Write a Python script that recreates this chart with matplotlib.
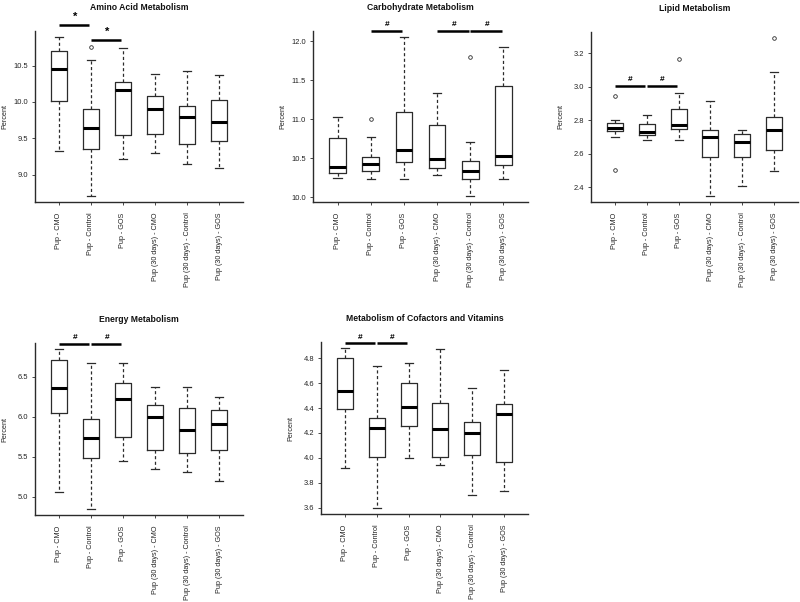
import numpy as np
import matplotlib.pyplot as plt
from matplotlib.ticker import MultipleLocator, FormatStrFormatter

plt.rcParams['font.family'] = ['Liberation Sans', 'DejaVu Sans']

groups = ['Pup - CMO', 'Pup - Control', 'Pup - GOS',
          'Pup (30 days) - CMO', 'Pup (30 days) - Control', 'Pup (30 days) - GOS']

# Amino Acid Metabolism
amino_lo = [9.33, 8.71, 9.21, 9.30, 9.14, 9.09]
amino_q1 = [10.02, 9.35, 9.54, 9.56, 9.42, 9.46]
amino_med = [10.46, 9.64, 10.16, 9.90, 9.79, 9.72]
amino_q3 = [10.70, 9.90, 10.27, 10.08, 9.94, 10.03]
amino_hi = [10.89, 10.58, 10.74, 10.38, 10.43, 10.37]
amino_out = [[], [10.76], [], [], [], []]
amino_sig = [(1, 2, '*', 11.06), (2, 3, '*', 10.86)]

# Carbohydrate Metabolism
carb_lo = [10.25, 10.23, 10.24, 10.29, 10.02, 10.24]
carb_q1 = [10.31, 10.34, 10.45, 10.38, 10.24, 10.41]
carb_med = [10.39, 10.43, 10.60, 10.49, 10.33, 10.53]
carb_q3 = [10.76, 10.52, 11.09, 10.93, 10.47, 11.43]
carb_hi = [11.03, 10.77, 12.05, 11.33, 10.71, 11.92]
carb_out = [[], [11.0], [], [], [11.80], []]
carb_sig = [(2, 3, '#', 12.13), (4, 5, '#', 12.13), (5, 6, '#', 12.13)]

# Lipid Metabolism
lipid_lo = [2.70, 2.68, 2.68, 2.35, 2.41, 2.50]
lipid_q1 = [2.735, 2.71, 2.75, 2.58, 2.58, 2.62]
lipid_med = [2.754, 2.73, 2.774, 2.70, 2.67, 2.74]
lipid_q3 = [2.785, 2.78, 2.87, 2.74, 2.72, 2.82]
lipid_hi = [2.80, 2.83, 2.965, 2.915, 2.74, 3.087]
lipid_out = [[2.943, 2.505], [], [3.167], [], [], [3.29]]
lipid_sig = [(1, 2, '#', 3.006), (2, 3, '#', 3.006)]

# Energy Metabolism
energy_lo = [5.06, 4.85, 5.45, 5.35, 5.31, 5.20]
energy_q1 = [6.046, 5.49, 5.75, 5.59, 5.55, 5.58]
energy_med = [6.367, 5.74, 6.225, 6.004, 5.83, 5.91]
energy_q3 = [6.717, 5.975, 6.43, 6.146, 6.11, 6.08]
energy_hi = [6.846, 6.67, 6.67, 6.38, 6.38, 6.25]
energy_out = [[], [], [], [], [], []]
energy_sig = [(1, 2, '#', 6.91), (2, 3, '#', 6.91)]

# Metabolism of Cofactors and Vitamins
cof_lo = [3.92, 3.60, 4.00, 3.94, 3.70, 3.73]
cof_q1 = [4.39, 4.01, 4.26, 4.01, 4.02, 3.97]
cof_med = [4.536, 4.24, 4.405, 4.23, 4.20, 4.35]
cof_q3 = [4.80, 4.32, 4.60, 4.44, 4.29, 4.43]
cof_hi = [4.88, 4.74, 4.76, 4.875, 4.56, 4.71]
cof_out = [[], [], [], [], [], []]
cof_sig = [(1, 2, '#', 4.92), (2, 3, '#', 4.92)]

# title, data..., tick step, axes box in pixels (left, bottom, width, height)
panels = [
    ('Amino Acid Metabolism', amino_lo, amino_q1, amino_med, amino_q3, amino_hi, amino_out, amino_sig,
     0.5, [35, 202, 208, 171]),
    ('Carbohydrate Metabolism', carb_lo, carb_q1, carb_med, carb_q3, carb_hi, carb_out, carb_sig,
     0.5, [313, 202, 215, 171]),
    ('Lipid Metabolism', lipid_lo, lipid_q1, lipid_med, lipid_q3, lipid_hi, lipid_out, lipid_sig,
     0.2, [591, 202, 207, 170]),
    ('Energy Metabolism', energy_lo, energy_q1, energy_med, energy_q3, energy_hi, energy_out, energy_sig,
     0.5, [35, 515, 208, 172]),
    ('Metabolism of Cofactors and Vitamins', cof_lo, cof_q1, cof_med, cof_q3, cof_hi, cof_out, cof_sig,
     0.2, [321, 514, 207, 172]),
]

W, H = 800, 602
fig = plt.figure(figsize=(8, 6.02), dpi=100)

edge = '#2b2b2b'

for title, lo, q1, med, q3, hi, out, sig, step, (px, pb, pw, ph) in panels:
    ax = fig.add_axes([px / W, 1 - pb / H, pw / W, ph / H])
    stats = []
    for i in range(len(groups)):
        stats.append(dict(whislo=lo[i], q1=q1[i], med=med[i], q3=q3[i],
                          whishi=hi[i], fliers=out[i], label=groups[i]))
    ax.bxp(stats, positions=np.arange(1, 7), widths=0.5, capwidths=0.25,
           boxprops=dict(color=edge, lw=0.9),
           whiskerprops=dict(color=edge, lw=0.9, linestyle=(0, (2.5, 2.0))),
           capprops=dict(color=edge, lw=0.9),
           medianprops=dict(color='black', lw=2.2),
           flierprops=dict(marker='o', markersize=2.6, markerfacecolor='none',
                           markeredgecolor=edge, markeredgewidth=0.6))

    allv = lo + hi + [v for o in out for v in o]
    vmin, vmax = min(allv), max(allv)
    pad = 0.04 * (vmax - vmin)
    ax.set_ylim(vmin - pad, vmax + pad)
    ax.set_xlim(0.26, 6.74)
    ax.yaxis.set_major_locator(MultipleLocator(step))
    ax.yaxis.set_major_formatter(FormatStrFormatter('%.1f'))

    for s in ['top', 'right']:
        ax.spines[s].set_visible(False)
    for s in ['left', 'bottom']:
        ax.spines[s].set_color(edge)
        ax.spines[s].set_linewidth(1.0)

    ax.set_xticks(np.arange(1, 7))
    ax.set_xticklabels(groups, rotation=90, fontsize=5.2)
    ax.tick_params(axis='both', length=2.5, width=0.6, colors=edge, labelcolor='#222222')
    ax.tick_params(axis='y', labelsize=5.4, pad=2.5)
    ax.tick_params(axis='x', pad=5)
    ax.set_ylabel('Percent', fontsize=5.2, color='#222222')
    ax.yaxis.set_label_coords(-27 / pw, 0.5)
    ax.set_title(title, fontsize=6.2, fontweight='bold', pad=15, color='#111111')

    for a, b, sym, y in sig:
        ax.plot([a + 0.0, b - 0.05], [y, y], color='black', lw=1.8,
                solid_capstyle='butt', clip_on=False)
        ax.annotate(sym, xy=((a + b) / 2, y), xytext=(0, 2.0), textcoords='offset points',
                    ha='center', va='bottom', fontweight='bold',
                    fontsize=8 if sym == '*' else 6, annotation_clip=False)

plt.savefig('out.png', dpi=100)
